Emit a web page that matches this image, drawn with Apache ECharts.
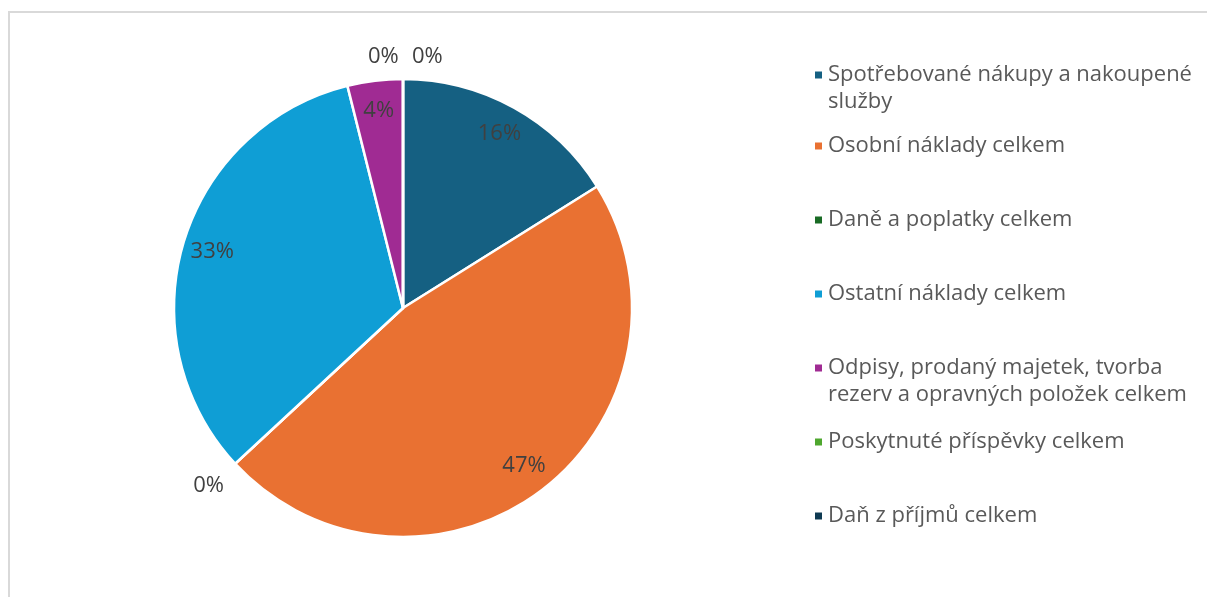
<!DOCTYPE html>
<html>
<head>
<meta charset="utf-8">
<script src="https://cdn.jsdelivr.net/npm/echarts@6/dist/echarts.min.js"></script>
<style>
html,body{margin:0;padding:0;background:#fff;overflow:hidden;}
#frame{position:absolute;left:8px;top:11px;width:1300px;height:700px;border:2px solid #d9d9d9;box-sizing:border-box;}
#chart{position:absolute;left:0;top:0;width:1207px;height:597px;}
</style>
</head>
<body>
<div id="frame"></div>
<div id="chart"></div>
<script>
const categories = [
  'Spotřebované nákupy a nakoupené služby',
  'Osobní náklady celkem',
  'Daně a poplatky celkem',
  'Ostatní náklady celkem',
  'Odpisy, prodaný majetek, tvorba rezerv a opravných položek celkem',
  'Poskytnuté příspěvky celkem',
  'Daň z příjmů celkem'
];
const legendLabels = [
  'Spotřebované nákupy a nakoupené\nslužby',
  'Osobní náklady celkem',
  'Daně a poplatky celkem',
  'Ostatní náklady celkem',
  'Odpisy, prodaný majetek, tvorba\nrezerv a opravných položek celkem',
  'Poskytnuté příspěvky celkem',
  'Daň z příjmů celkem'
];
const values = [16.1, 47.0, 0, 33.0, 3.9, 0, 0];
const colors = ['#156082', '#E97132', '#196B24', '#0F9ED5', '#A02B93', '#4EA72E', '#0E3A52'];

const FONT = '"Open Sans", sans-serif';
const LBL = '#404040';
const center = [403, 308];
const R = 229;

const pieData = categories.map((n, i) => ({ name: n, value: values[i], itemStyle: { color: colors[i] } }));

// nudges for the outside labels of the zero slices
const zeroShift = { 2: [10, 7], 5: [-40, 0], 6: [4, 0] };

const mainData = pieData.map((d, i) => {
  const small = values[i] < 1;
  return Object.assign({}, d, {
    label: small ? { show: true, position: 'outside' } : { show: false },
    labelLine: { show: false }
  });
});
const ringData = pieData.map((d, i) => ({
  name: d.name, value: d.value,
  label: { show: values[i] >= 1 }
}));

const fmt = p => Math.round(p.percent) + '%';

const legendTops = [74, 145, 219, 293, 367, 441, 515];
const LH = 27;
// square marker sitting at the top of a taller box, so it lines up with the first text line
const topIcon = 'path://M0,0h9v9h-9zM4,35.98h0.02v0.02h-0.02z';
const legends = categories.map((n, i) => {
  const two = legendLabels[i].indexOf('\n') >= 0;
  return {
    show: true,
    orient: 'vertical',
    left: 808,
    top: legendTops[i] - LH / 2 - 4,
    data: [n],
    icon: two ? topIcon : 'rect',
    itemWidth: 9,
    itemHeight: two ? 36 : 9,
    selectedMode: false,
    formatter: () => legendLabels[i],
    textStyle: { fontFamily: FONT, fontSize: 22, color: '#595959', lineHeight: LH }
  };
});

const chart = echarts.init(document.getElementById('chart'), null, { renderer: 'canvas' });
chart.setOption({
  animation: false,
  backgroundColor: 'transparent',
  legend: legends,
  series: [
    {
      type: 'pie',
      center: center,
      radius: [0, R],
      startAngle: 90,
      clockwise: true,
      avoidLabelOverlap: false,
      itemStyle: { borderColor: '#fff', borderWidth: 2.5 },
      label: { formatter: fmt, fontFamily: FONT, fontSize: 22, color: LBL },
      labelLine: { show: false, length: 22, length2: 0 },
      labelLayout: p => {
        const s = zeroShift[p.dataIndex];
        return s ? { dx: s[0], dy: s[1] } : {};
      },
      emphasis: { disabled: true },
      data: mainData
    },
    {
      type: 'pie',
      center: center,
      radius: [160, 232],
      startAngle: 90,
      clockwise: true,
      silent: true,
      avoidLabelOverlap: false,
      itemStyle: { color: 'rgba(0,0,0,0)', borderWidth: 0 },
      label: { position: 'inside', formatter: fmt, fontFamily: FONT, fontSize: 22, color: LBL },
      labelLine: { show: false },
      emphasis: { disabled: true },
      legendHoverLink: false,
      data: ringData
    }
  ]
});
</script>
</body>
</html>
